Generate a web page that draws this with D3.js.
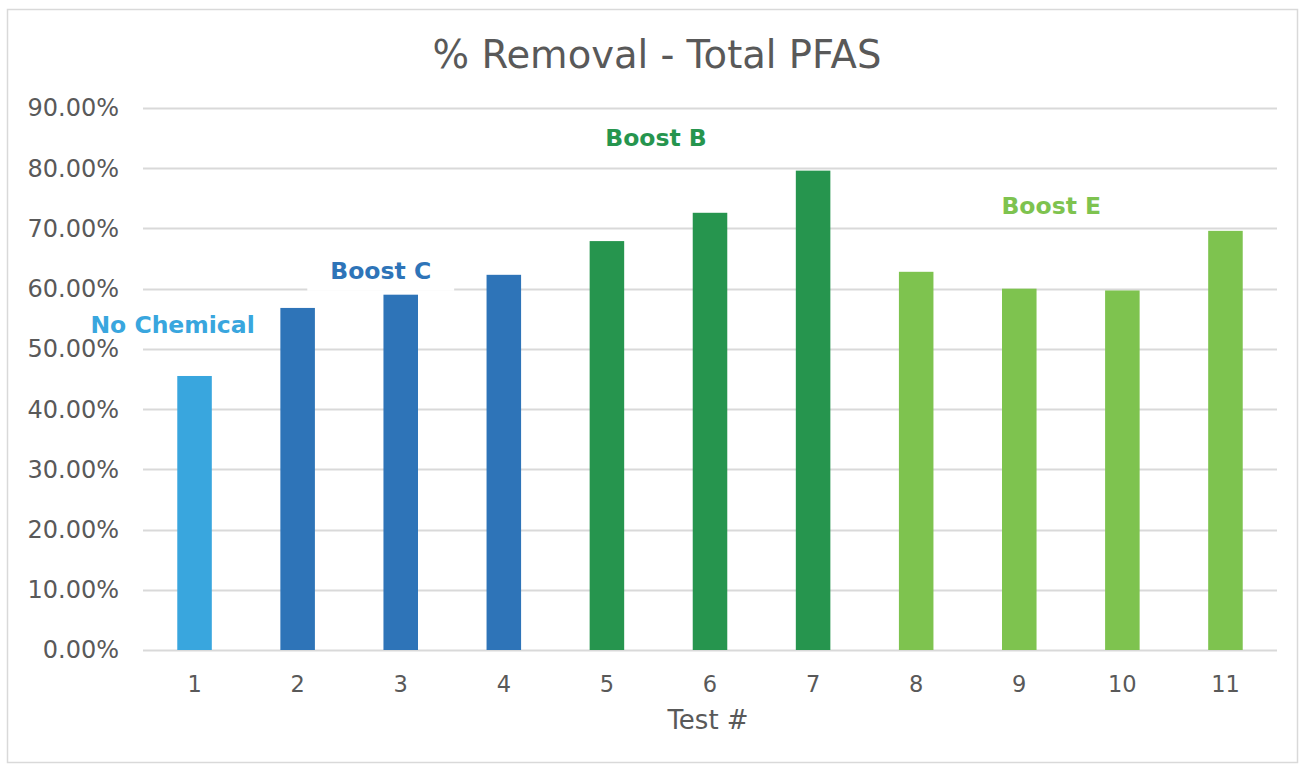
<!DOCTYPE html>
<html>
<head>
<meta charset="utf-8">
<script src="https://cdn.jsdelivr.net/npm/d3@7"></script>
<style>
  body { margin: 0; background: #fff; }
  svg { display: block; font-family: "DejaVu Sans", Verdana, sans-serif; }
</style>
</head>
<body>
<div id="vis"></div>
<script>
// data
const tests = ["1", "2", "3", "4", "5", "6", "7", "8", "9", "10", "11"];
const removal = [0.455, 0.568, 0.59, 0.623, 0.679, 0.726, 0.796, 0.628, 0.60, 0.597, 0.696];
const groupOf = ["none", "C", "C", "C", "B", "B", "B", "E", "E", "E", "E"];
const yTicks = [0, 0.1, 0.2, 0.3, 0.4, 0.5, 0.6, 0.7, 0.8, 0.9];

const groups = ["none", "C", "B", "E"];
const groupNames = ["No Chemical", "Boost C", "Boost B", "Boost E"];
const groupColours = ["#39a6de", "#2e74b8", "#26954e", "#7ec34f"];
// where each group label sits: [test it is anchored to, value height]
const labelAnchor = [["1", 0.54], ["3", 0.63], ["6", 0.85], ["9", 0.738]];

const width = 1302;
const height = 765;
const margin = { top: 108, right: 25, bottom: 115, left: 143 };

const svg = d3.select("#vis").append("svg")
  .attr("width", width)
  .attr("height", height);

// chart frame
svg.append("rect")
  .attr("x", 7.5).attr("y", 9.5)
  .attr("width", 1290).attr("height", 753)
  .attr("fill", "#fff")
  .attr("stroke", "#d9d9d9")
  .attr("stroke-width", 1.5);

const x = d3.scaleBand()
  .domain(tests)
  .range([margin.left, width - margin.right])
  .paddingInner(0.665)
  .paddingOuter(0.3325);

const y = d3.scaleLinear()
  .domain([0, 0.9])
  .range([height - margin.bottom, margin.top]);

const colour = d3.scaleOrdinal().domain(groups).range(groupColours);

// gridlines
svg.append("g")
  .selectAll("line")
  .data(yTicks)
  .join("line")
  .attr("x1", margin.left)
  .attr("x2", width - margin.right)
  .attr("y1", (d) => Math.round(y(d)) + 0.5)
  .attr("y2", (d) => Math.round(y(d)) + 0.5)
  .attr("stroke", "#d9d9d9")
  .attr("stroke-width", 2);

// bars
svg.append("g")
  .selectAll("rect")
  .data(tests)
  .join("rect")
  .attr("x", (d) => x(d))
  .attr("width", x.bandwidth())
  .attr("y", (d, i) => y(removal[i]))
  .attr("height", (d, i) => y(0) - y(removal[i]))
  .attr("fill", (d, i) => colour(groupOf[i]));

// group labels with white boxes behind (text box padding like excel)
const labelShift = [-22, -20, -54, 32];
const labels = svg.append("g")
  .selectAll("g")
  .data(groups)
  .join("g")
  .attr("transform", (d, i) => {
    const a = labelAnchor[i];
    return `translate(${x(a[0]) + x.bandwidth() / 2 + labelShift[i]},${y(a[1])})`;
  });

labels.append("rect")
  .attr("fill", "#fff");

labels.append("text")
  .attr("text-anchor", "middle")
  .attr("dy", "0.35em")
  .attr("font-size", 23.5)
  .attr("font-weight", "bold")
  .attr("fill", (d) => colour(d))
  .text((d, i) => groupNames[i]);

labels.each(function () {
  const g = d3.select(this);
  const b = g.select("text").node().getBBox();
  g.select("rect")
    .attr("x", b.x - 23).attr("y", b.y - 6)
    .attr("width", b.width + 46).attr("height", b.height + 12);
});

// y tick labels
svg.append("g")
  .selectAll("text")
  .data(yTicks)
  .join("text")
  .attr("x", 119)
  .attr("y", (d) => y(d))
  .attr("dy", "0.35em")
  .attr("text-anchor", "end")
  .attr("font-size", 24)
  .attr("fill", "#595959")
  .text((d) => d3.format(".2%")(d));

// x tick labels
svg.append("g")
  .selectAll("text")
  .data(tests)
  .join("text")
  .attr("x", (d) => x(d) + x.bandwidth() / 2)
  .attr("y", 684)
  .attr("dy", "0.35em")
  .attr("text-anchor", "middle")
  .attr("font-size", 22.5)
  .attr("fill", "#595959")
  .text((d) => d);

// title
svg.append("text")
  .attr("x", 657)
  .attr("y", 55)
  .attr("dy", "0.35em")
  .attr("text-anchor", "middle")
  .attr("font-size", 38.5)
  .attr("fill", "#595959")
  .text("% Removal - Total PFAS");

// axis title
svg.append("text")
  .attr("x", 708)
  .attr("y", 720)
  .attr("dy", "0.35em")
  .attr("text-anchor", "middle")
  .attr("font-size", 26)
  .attr("fill", "#595959")
  .text("Test #");
</script>
</body>
</html>
